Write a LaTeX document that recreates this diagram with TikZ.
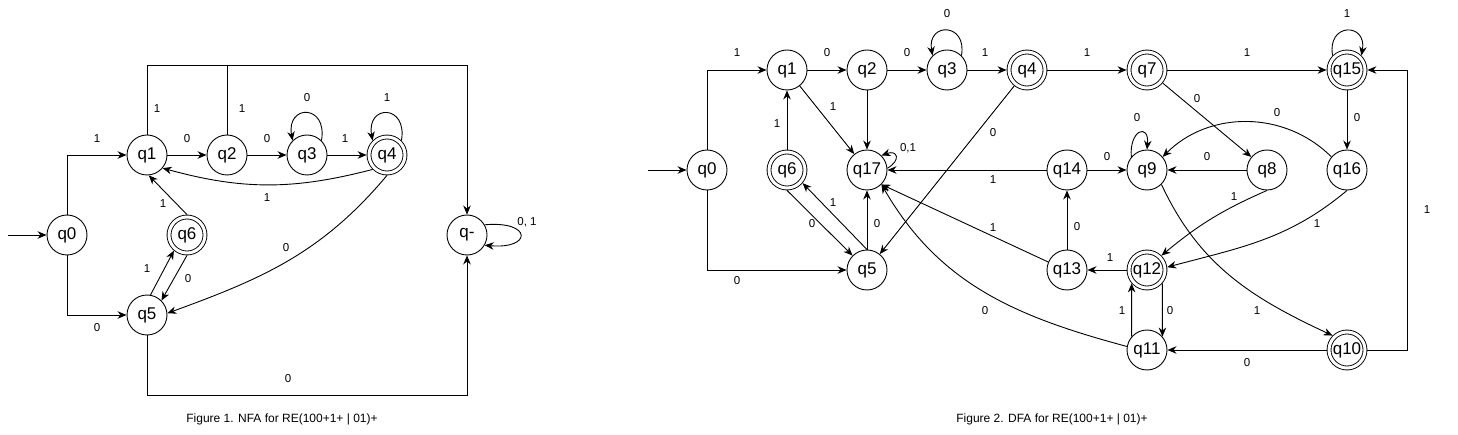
\documentclass[tikz,border=0pt]{standalone}
\usepackage{fontspec}
\setmainfont{Liberation Sans}
\usetikzlibrary{arrows.meta}
\begin{document}
\begin{tikzpicture}[x=1pt,y=1pt,line width=0.9pt,
    >={Stealth[length=9pt,width=7.5pt]},
    state/.style={circle,draw,minimum size=40pt,inner sep=0pt,font=\fontsize{17}{17}\selectfont},
    acc/.style={state,double,double distance=3pt,minimum size=36pt,outer sep=2.4pt},
    lbl/.style={inner sep=0pt,font=\fontsize{11.5}{11.5}\selectfont},
    caption/.style={inner sep=0pt,font=\fontsize{12}{12}\selectfont}]
        \useasboundingbox (0,0) rectangle (1458,-435);
        \node [state] (n0) at (67,-235) {q0};
        \node [state] (n1) at (147,-155) {q1};
        \node [state] (n2) at (227,-155) {q2};
        \node [state] (n3) at (307,-155) {q3};
        \node [acc] (n4) at (387,-155) {q4};
        \node [state] (n5) at (147,-315) {q5};
        \node [acc] (n6) at (187,-235) {q6};
        \node [state] (nm) at (467,-235) {q-};
        \coordinate (nin) at (8,-235);
        \coordinate (ntop) at (0,-65);
        \coordinate (nbot) at (0,-395);
        \draw [->] (nin) -- (n0);
        \draw [->] (n0.north) |- (n1) node [lbl] at (97,-139) {1};
        \draw [->] (n0.south) |- (n5) node [lbl] at (97,-328) {0};
        \draw [->] (n1) -- (n2) node [lbl] at (187,-139) {0};
        \draw [->] (n2) -- (n3) node [lbl] at (267,-139) {0};
        \draw [->] (n3) -- (n4) node [lbl] at (345,-139) {1};
        \draw [->] (n3.45) to [out=80,in=100,looseness=3.3] (n3.135) node [lbl] at (307,-98) {0};
        \draw [->] (n4.45) to [out=80,in=100,looseness=3.3] (n4.135) node [lbl] at (387,-98) {1};
        \draw [->] (n4.-135) to [bend left=15] (n1.-40) node [lbl] at (267,-198) {1};
        \draw [->] (n4.-90) to [out=-130,in=20] (n5.5) node [lbl] at (286,-248) {0};
        \draw [->] (n6.north) -- (n1.-85) node [lbl] at (163,-204) {1};
        \draw [->] (n5.80) -- (n6.-130) node [lbl] at (147,-269) {1};
        \draw [->] (n6.-90) -- (n5.45) node [lbl] at (188,-279) {0};
        \draw [->] (n1.north) -- (n1.north |- ntop) -| (nm.north) node [lbl] at (157,-109) {1};
        \draw (n2.north) -- (n2.north |- ntop) node [lbl] at (242,-109) {1};
        \draw [->] (n5.south) -- (n5.south |- nbot) -| (nm.south) node [lbl] at (288,-379) {0};
        \draw [->] (nm.30) to [out=5,in=-5,looseness=6] (nm.-30) node [lbl] at (527,-222) {0, 1};
        \node [caption] (cap1) at (282,-419) {Figure 1. NFA for RE(100+1+ | 01)+};
        \node [state] (d0) at (707,-170) {q0};
        \node [state] (d1) at (787,-70) {q1};
        \node [state] (d2) at (867,-70) {q2};
        \node [state] (d3) at (947,-70) {q3};
        \node [acc] (d4) at (1027,-70) {q4};
        \node [acc] (d7) at (1147,-70) {q7};
        \node [acc] (d15) at (1347,-70) {q15};
        \node [acc] (d6) at (787,-170) {q6};
        \node [state] (d17) at (867,-170) {q17};
        \node [state] (d14) at (1067,-170) {q14};
        \node [state] (d9) at (1147,-170) {q9};
        \node [state] (d8) at (1267,-170) {q8};
        \node [state] (d16) at (1347,-170) {q16};
        \node [state] (d5) at (867,-270) {q5};
        \node [state] (d13) at (1067,-270) {q13};
        \node [acc] (d12) at (1147,-270) {q12};
        \node [state] (d11) at (1147,-350) {q11};
        \node [acc] (d10) at (1347,-350) {q10};
        \coordinate (din) at (648,-170);
        \coordinate (drgt) at (1407,0);
        \draw [->] (din) -- (d0);
        \draw [->] (d0.north) |- (d1) node [lbl] at (737,-53) {1};
        \draw [->] (d0.south) |- (d5) node [lbl] at (737,-281) {0};
        \draw [->] (d1) -- (d2) node [lbl] at (827,-53) {0};
        \draw [->] (d2) -- (d3) node [lbl] at (907,-53) {0};
        \draw [->] (d3) -- (d4) node [lbl] at (985,-53) {1};
        \draw [->] (d4) -- (d7) node [lbl] at (1087,-53) {1};
        \draw [->] (d7) -- (d15) node [lbl] at (1247,-53) {1};
        \draw [->] (d3.45) to [out=80,in=100,looseness=3] (d3.135) node [lbl] at (947,-14) {0};
        \draw [->] (d15.135) to [out=100,in=80,looseness=3] (d15.45) node [lbl] at (1347,-14) {1};
        \draw [->] (d1) -- (d17) node [lbl] at (833,-107) {1};
        \draw [->] (d2) -- (d17);
        \draw [->] (d6) -- (d1) node [lbl] at (777,-124) {1};
        \draw [->] (d17.5) .. controls +(14,8) and +(16,6) .. (d17.45) node [lbl] at (908,-148) {0,1};
        \draw [->] (d4) -- (d5) node [lbl] at (993,-133) {0};
        \draw [->] (d7) -- (d8) node [lbl] at (1197,-99) {0};
        \draw [->] (d15) -- (d16) node [lbl] at (1357,-118) {0};
        \draw [->] (d16.140) to [bend right=45] (d9.40) node [lbl] at (1277,-113) {0};
        \draw [->] (d8) -- (d9) node [lbl] at (1207,-157) {0};
        \draw [->] (d14) -- (d9) node [lbl] at (1107,-157) {0};
        \draw [->] (d14) -- (d17) node [lbl] at (993,-180) {1};
        \draw [->] (d9.140) to [out=95,in=85,looseness=4] (d9.90) node [lbl] at (1137,-118) {0};
        \draw [->] (d6.-90) -- (d5.135) node [lbl] at (812,-224) {0};
        \draw [->] (d5.90) -- (d6.-40) node [lbl] at (833,-203) {1};
        \draw [->] (d5) -- (d17) node [lbl] at (877,-224) {0};
        \draw [->] (d13.157) -- (d17.-45) node [lbl] at (993,-228) {1};
        \draw [->] (d11.170) to [out=165,in=-60] (d17.-45) node [lbl] at (985,-311) {0};
        \draw [->] (d13) -- (d14) node [lbl] at (1077,-227) {0};
        \draw [->] (d12) -- (d13) node [lbl] at (1110,-258) {1};
        \draw [->] (d12.-41) -- (d11.41) node [lbl] at (1170,-311) {0};
        \draw [->] (d11.139) -- (d12.-139) node [lbl] at (1122,-311) {1};
        \draw [->] (d8.-90) to [bend right=8] (d12.45) node [lbl] at (1234,-197) {1};
        \draw [->] (d16.-90) to [out=-140,in=15] (d12.8) node [lbl] at (1317,-224) {1};
        \draw [->] (d9.-45) to [out=-65,in=155] (d10.135) node [lbl] at (1257,-311) {1};
        \draw [->] (d10) -- (d11) node [lbl] at (1247,-363) {0};
        \draw [->] (d10.east) -| (drgt |- d15) -- (d15) node [lbl] at (1427,-210) {1};
        \node [caption] (cap2) at (1052,-419) {Figure 2. DFA for RE(100+1+ | 01)+};
\end{tikzpicture}
\end{document}
